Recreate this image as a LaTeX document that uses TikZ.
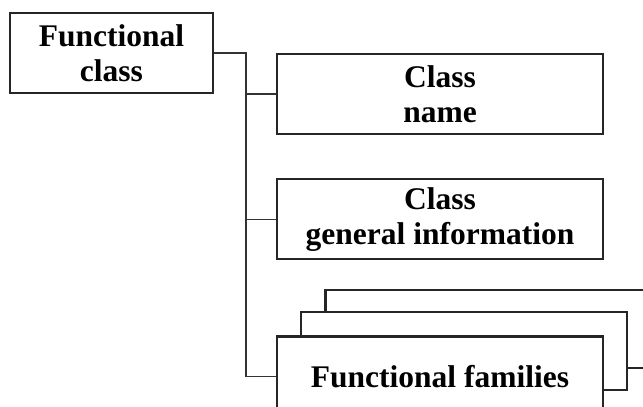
\documentclass[tikz,border=0pt]{standalone}
\usepackage{fontspec}
\setmainfont{Liberation Serif}
\usepackage{tikz}
\usetikzlibrary{positioning}

\begin{document}
\begin{tikzpicture}[x=1pt, y=1pt, node distance=43pt,
	box/.style={draw=black!85, line width=2.3pt, fill=white, inner sep=0pt, align=center,
		minimum width=326pt, minimum height=80pt,
		font=\fontsize{31.5}{35}\selectfont\bfseries},
	link/.style={draw=black!80, line width=1.3pt}]
	\useasboundingbox (0,0) rectangle (643,407);
	\clip (0,0) rectangle (643,407);

	\node[box, minimum width=203pt] (fc) at (111.5,354) {Functional\\class};
	\node[box] (cn) at (440,313) {Class\\name};
	\node[box, below=of cn] (cg) {Class\\general information};

	% stacked family boxes, back to front
	\node[box, minimum height=78pt] (fam3) at (488.5,78) {};
	\node[box, minimum height=78pt] (fam2) at (464,56) {};
	\node[box, below=75pt of cg] (fam) {Functional families};

	\coordinate (bus) at (246,354);
	\draw[link] (fc.east) -- (bus) |- (fam.west);
	\draw[link] (bus) |- (cn.west);
	\draw[link] (bus) |- (cg.west);
\end{tikzpicture}
\end{document}
